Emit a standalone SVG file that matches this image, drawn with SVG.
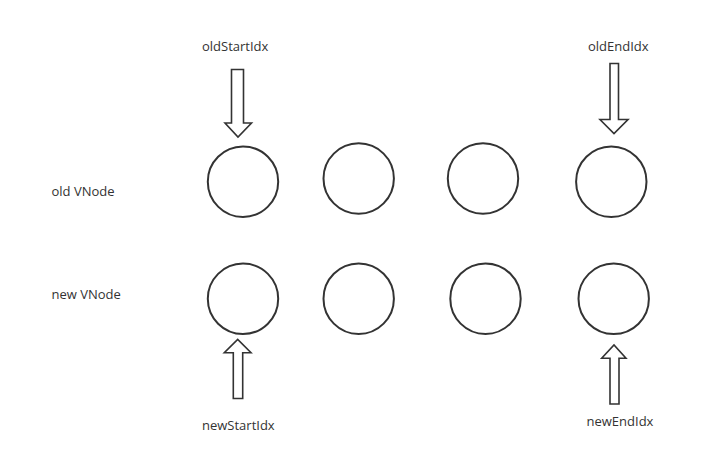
<svg xmlns="http://www.w3.org/2000/svg" width="704" height="469" viewBox="0 0 704 469">
<style>
.bg{fill:#ffffff}
.node{fill:none;stroke:#333333;stroke-width:2}
.arrow{fill:none;stroke:#333333;stroke-width:1.6;stroke-linejoin:miter}
.label{font-family:"Open Sans","Noto Sans","DejaVu Sans",sans-serif;font-size:13px;fill:#333333}
</style>
<rect class="bg" x="0" y="0" width="704" height="469"/>
<g id="row-labels">
<text class="label" x="51.5" y="196">old VNode</text>
<text class="label" x="51.5" y="298.5">new VNode</text>
</g>
<g id="old-vnode-1"><circle class="node" cx="243" cy="181.7" r="35.2"/></g>
<g id="old-vnode-2"><circle class="node" cx="358.7" cy="178.5" r="35.2"/></g>
<g id="old-vnode-3"><circle class="node" cx="483" cy="178.5" r="35.2"/></g>
<g id="old-vnode-4"><circle class="node" cx="611.3" cy="181.7" r="35.2"/></g>
<g id="new-vnode-1"><circle class="node" cx="243" cy="298.8" r="35.2"/></g>
<g id="new-vnode-2"><circle class="node" cx="358.7" cy="298.7" r="35.2"/></g>
<g id="new-vnode-3"><circle class="node" cx="485.5" cy="298.7" r="35.2"/></g>
<g id="new-vnode-4"><circle class="node" cx="613.7" cy="298.8" r="35.2"/></g>
<g id="connectors">
<path class="arrow" d="M231.5,69.5 H243.5 V123 H251.5 L238,137 L225,123 H231.5 Z"/>
<path class="arrow" d="M610,63.5 H618.5 V119.5 H628 L614,133.5 L600,119.5 H610 Z"/>
<path class="arrow" d="M233.3,398.5 H242.7 V352.7 H251 L237.7,339.5 L224.3,352.7 H233.3 Z"/>
<path class="arrow" d="M610,404 H619 V358.3 H626 L614,345 L601.7,358.3 H610 Z"/>
</g>
<g id="index-labels">
<text class="label" x="202" y="51">oldStartIdx</text>
<text class="label" x="588" y="51">oldEndIdx</text>
<text class="label" x="202" y="430">newStartIdx</text>
<text class="label" x="586.5" y="426">newEndIdx</text>
</g>
</svg>
